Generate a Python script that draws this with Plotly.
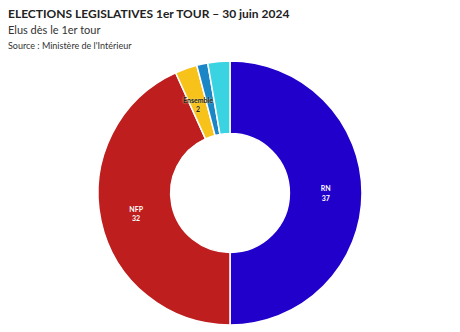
import plotly.graph_objects as go

labels = ["RN", "NFP", "Ensemble", "LR", "Divers droite"]
values = [37, 32, 2, 1, 2]
colors = ["#2200CC", "#BE1E1E", "#F7C21A", "#1B86C6", "#3AD3E2"]
show_inside = [True, True, False, False, False]

texts = [f"{l}<br>{v}" if s else "" for l, v, s in zip(labels, values, show_inside)]

fig = go.Figure(go.Pie(
    labels=labels, values=values, text=texts,
    textinfo="text", textposition="inside", insidetextorientation="horizontal",
    hole=0.45, sort=False, direction="clockwise", rotation=0,
    marker=dict(colors=colors, line=dict(color="white", width=1.5)),
    textfont=dict(family="Lato", size=7, color="white", weight="bold"),
    showlegend=False,
))

fig.update_layout(
    width=460, height=332,
    margin=dict(l=0, r=0, t=61, b=7),
    paper_bgcolor="white",
)
# label for the small Ensemble slice
fig.add_annotation(text=f"<b>{labels[2]}<br>{values[2]}</b>",
                   xref="paper", yref="paper", x=198 / 460, y=(325 - 104) / 264,
                   xanchor="center", yanchor="middle", showarrow=False,
                   font=dict(family="Lato", size=7, color="#222222",
                             shadow="0px 0px 2px #FBE7A0"))
fig.add_annotation(text="<b>ELECTIONS LEGISLATIVES 1er TOUR – 30 juin 2024</b>",
                   xref="paper", yref="paper", x=0, xshift=6, y=1, yshift=61 - 4,
                   xanchor="left", yanchor="top", showarrow=False,
                   font=dict(family="Lato", size=12, color="#222222"))
fig.add_annotation(text="Elus dès le 1er tour",
                   xref="paper", yref="paper", x=0, xshift=6, y=1, yshift=61 - 21,
                   xanchor="left", yanchor="top", showarrow=False,
                   font=dict(family="Lato", size=11, color="#333333"))
fig.add_annotation(text="Source : Ministère de l'Intérieur",
                   xref="paper", yref="paper", x=0, xshift=6, y=1, yshift=61 - 38,
                   xanchor="left", yanchor="top", showarrow=False,
                   font=dict(family="Lato", size=9, color="#333333"))

fig.write_html("out.html")
